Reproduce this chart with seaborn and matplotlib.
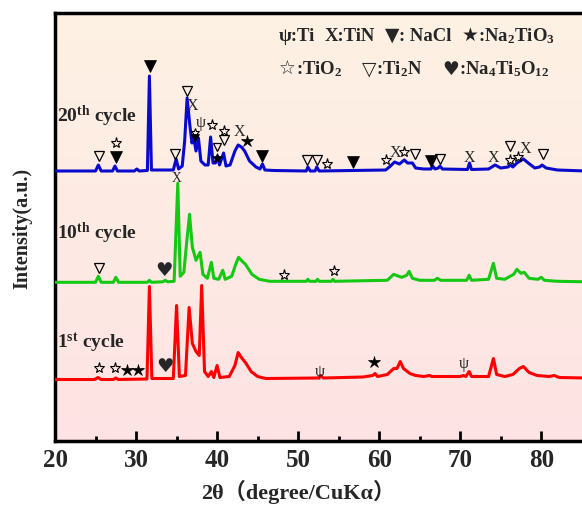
import numpy as np
import pandas as pd
import matplotlib
matplotlib.use("Agg")
import matplotlib.pyplot as plt
import seaborn as sns
from matplotlib.offsetbox import TextArea, HPacker, VPacker, AnnotationBbox

# ---- XRD patterns (2-theta in degrees, intensity in a.u. above each trace's baseline) ----
red_2theta = [20.0, 24.9, 25.3, 25.7, 27.2, 27.5, 27.8, 31.35, 31.65, 31.95, 34.6, 35.0, 35.35,
              36.1, 36.55, 36.95, 37.4, 37.8, 38.1, 38.45, 38.9, 39.3, 39.6, 40.0, 40.35, 41.5,
              42.2, 42.6, 43.0, 43.5, 44.2, 45.0, 46.0, 52.5, 52.8, 53.1, 58.0, 59.2, 59.5, 59.8,
              61.0, 61.8, 62.2, 62.6, 63.0, 63.8, 64.5, 65.5, 66.2, 66.5, 70.0, 70.4, 70.7, 71.1,
              71.4, 73.5, 74.1, 74.5, 75.5, 76.5, 77.3, 77.8, 78.5, 79.5, 81.0, 81.6, 82.2, 85.5]
red_int = [0, 0, 2, 0, 0, 1.5, 0, 0.5, 93, 1, 1, 74, 3,
           4, 72, 36, 28, 24, 94, 8, 3, 8, 2, 14, 2, 3,
           14, 27, 22, 17, 8, 3, 1, 1.5, 4, 1.5, 2.5, 4, 6, 3,
           5, 11, 11, 18, 11, 6, 4, 3, 4, 3, 3, 4, 3, 8,
           3, 3, 21, 5, 3, 5, 11, 13, 7, 4, 3, 4, 2, 1.5]

green_2theta = [20.0, 25.0, 25.35, 25.7, 27.2, 27.5, 27.85, 31.4, 31.65, 31.9, 33.3, 33.6, 33.9,
                34.7, 35.15, 35.45, 35.9, 36.25, 36.6, 36.95, 37.4, 37.9, 38.25, 38.8, 39.3, 39.6,
                40.2, 40.7, 41.0, 41.8, 42.3, 42.65, 43.1, 43.5, 44.3, 45.2, 46.5, 51.0, 51.2, 51.4,
                52.2, 52.4, 52.6, 54.1, 54.3, 54.5, 61.0, 61.8, 62.4, 62.8, 63.4, 63.7, 64.1, 65.0,
                66.8, 67.2, 67.6, 70.8, 71.1, 71.4, 73.5, 74.1, 74.5, 75.5, 76.6, 77.0, 77.5, 77.9,
                78.5, 79.6, 80.0, 80.4, 82.0, 85.5]
green_int = [0, 0, 6, 0, 0, 5, 0, 0, 2, 0, 0.5, 2, 0.5,
             1, 99, 6, 10, 40, 68, 35, 22, 30, 8, 4, 20, 4,
             3, 12, 3, 6, 18, 25, 21, 18, 8, 3, 1, 1, 3, 1,
             1, 3, 1, 1, 3, 1, 2, 8, 6, 5, 7, 11, 4, 2,
             2, 4, 2, 2, 7, 2, 3, 19, 4, 3, 8, 13, 9, 10,
             4, 3, 5, 2, 1, 0.5]

blue_2theta = [20.0, 25.0, 25.35, 25.7, 27.1, 27.4, 27.7, 29.8, 30.1, 30.4, 31.4, 31.65, 31.9,
               34.6, 34.95, 35.25, 35.7, 36.0, 36.3, 36.65, 36.9, 37.1, 37.4, 37.7, 38.0, 38.5,
               38.9, 39.2, 39.5, 39.8, 40.05, 40.3, 40.8, 41.1, 41.6, 42.2, 42.6, 43.0, 43.4,
               44.0, 44.8, 45.3, 45.6, 45.9, 47.0, 51.0, 51.2, 51.5, 52.1, 52.3, 52.6, 60.8,
               61.4, 61.9, 62.5, 63.1, 63.5, 64.1, 64.5, 65.5, 66.4, 66.6, 66.9, 67.3, 67.5,
               67.8, 70.9, 71.15, 71.4, 73.5, 74.3, 75.0, 75.9, 76.2, 76.5, 77.0, 77.8, 78.4,
               79.2, 79.8, 80.1, 80.6, 82.0, 85.5]
blue_int = [0, 0, 6, 0, 0, 5, 0, 0, 2, 0, 0.5, 95, 1,
            1, 12, 2, 5, 30, 73, 45, 28, 34, 20, 33, 10, 6,
            6, 34, 8, 8, 15, 6, 18, 5, 6, 20, 26, 24, 20,
            10, 4, 2, 7, 1, 0.5, 0, 4, 0, 0, 4, 0, 1,
            5, 9, 7, 11, 8, 8, 3, 2, 2, 5, 2, 3, 5,
            2, 1.5, 8, 1.5, 2, 6, 3, 4, 6, 4, 8, 12, 8,
            3, 4, 6, 3, 1, 0]

cycles = ["1st cycle", "10th cycle", "20th cycle"]
cycle_colors = ["#FF0000", "#14C814", "#0A0ACD"]
cycle_offsets = [61.5, 158.7, 270.0]

x_ticks = [20, 30, 40, 50, 60, 70, 80]

# ---- style ----
sns.set_theme(style="ticks")
plt.rcParams["font.family"] = ["Liberation Serif", "DejaVu Sans"]
plt.rcParams["font.weight"] = "bold"
plt.rcParams["mathtext.fontset"] = "custom"
plt.rcParams["mathtext.rm"] = "Liberation Serif:bold"
plt.rcParams["mathtext.bf"] = "Liberation Serif:bold"
plt.rcParams["mathtext.it"] = "Liberation Serif:bold:italic"

frames = []
for name, xs, ys, off in zip(cycles,
                             [red_2theta, green_2theta, blue_2theta],
                             [red_int, green_int, blue_int],
                             cycle_offsets):
    frames.append(pd.DataFrame({"two_theta": xs,
                                "intensity": np.asarray(ys, dtype=float) + off,
                                "cycle": name}))
df = pd.concat(frames, ignore_index=True)

fig = plt.figure(figsize=(5.82, 5.06), dpi=100)
ax = fig.add_axes([55 / 582, 64 / 506, 530 / 582, 428 / 506])

# soft peach-to-pink panel background
grad = np.linspace(0, 1, 256)[:, None]
top_c = np.array([254, 242, 228]) / 255
bot_c = np.array([253, 227, 227]) / 255
img = (top_c[None, None, :] * (1 - grad[..., None]) + bot_c[None, None, :] * grad[..., None])
ax.imshow(img, extent=[0, 1, 0, 1], transform=ax.transAxes, aspect="auto", zorder=0)

sns.lineplot(data=df, x="two_theta", y="intensity", hue="cycle", hue_order=cycles,
             palette=cycle_colors, estimator=None, sort=False, legend=False,
             linewidth=2.2, ax=ax, zorder=3)

ax.set_xlim(20, 85.4)
ax.set_ylim(0, 428)

# ---- phase markers ----
def tri_open(x, y, s=1.0):
    ax.plot(x, y, marker="v", ms=7.5 * s, mfc="none", mec="black", mew=0.9, ls="none", zorder=5)

def tri_fill(x, y, s=1.0):
    ax.plot(x, y, marker="v", ms=8.0 * s, mfc="black", mec="black", mew=0.5, ls="none", zorder=5)

def star_open(x, y, s=1.0):
    ax.plot(x, y, marker="*", ms=8.0 * s, mfc="none", mec="black", mew=0.8, ls="none", zorder=5)

def star_fill(x, y, s=1.0):
    ax.plot(x, y, marker="*", ms=9.0 * s, mfc="black", mec="black", mew=0.5, ls="none", zorder=5)

def txt(sym, x, y, size, fam):
    ax.text(x, y, sym, fontsize=size, fontweight="normal", family=fam,
            ha="center", va="center", zorder=5)

def tin(x, y, s=1.0):
    txt("X", x, y, 11.5 * s, ["Liberation Serif"])

def ti(x, y, s=1.0):
    txt("ψ", x, y, 11.5 * s, ["Liberation Serif", "DejaVu Sans"])

def heart(x, y, s=1.0):
    txt("♥", x, y, 14 * s, ["DejaVu Sans"])

# 20th cycle
tri_open(25.4, 285); star_open(27.5, 298); tri_fill(27.5, 284)
tri_fill(31.7, 375, 1.05); tri_open(34.8, 287); tin(34.95, 264, 0.85)
tri_open(36.25, 350); tin(37.0, 336); ti(38.0, 319)
star_open(37.3, 309, 0.8); tri_fill(37.3, 303, 0.65)
star_open(39.4, 316); star_open(40.9, 310); tri_open(40.9, 301)
tri_open(40.0, 294, 0.75); star_fill(40.0, 283, 0.8)
tin(42.75, 310); star_fill(43.65, 300); tri_fill(45.5, 285)
tri_open(51.1, 281); tri_open(52.3, 281); star_open(53.6, 277); tri_fill(56.75, 279)
star_open(60.9, 281); tin(62.0, 289); star_open(63.1, 289); tri_open(64.4, 287)
tri_fill(66.4, 280); tri_open(67.5, 282); tin(71.15, 284); tin(74.1, 284)
tri_open(76.1, 295); star_open(76.1, 281); star_open(77.1, 284); tin(78.0, 293)
tri_open(80.2, 287)
# 10th cycle
tri_open(25.4, 173); heart(33.5, 171); star_open(48.2, 166); star_open(54.4, 170)
# 1st cycle
star_open(25.4, 73); star_open(27.4, 73); star_fill(28.85, 71); star_fill(30.3, 71)
heart(33.6, 75); ti(52.7, 70); star_fill(59.4, 79); ti(70.5, 78)

# cycle labels
for label, y in zip(["1$^{\\mathbf{st}}$ cycle", "10$^{\\mathbf{th}}$ cycle", "20$^{\\mathbf{th}}$ cycle"],
                    [99, 209, 326]):
    ax.text(20.25, y, label, fontsize=14, va="center", ha="left", zorder=6)

# ---- phase key ----
lab = dict(fontsize=13.5, fontweight="bold", family=["Liberation Serif", "DejaVu Sans"])
sym = dict(fontsize=13.5, fontweight="bold", family=["DejaVu Sans"])

def pair(s, t):
    return HPacker(children=[TextArea(s, textprops=sym), TextArea(t, textprops=lab)],
                   sep=0, pad=0, align="baseline")

row1 = HPacker(children=[TextArea("ψ:Ti", textprops=lab), TextArea("X:TiN", textprops=lab),
                         pair("▼", ": NaCl"), pair("★", ":Na$_2$TiO$_3$")],
               sep=7, pad=0, align="baseline")
row2 = HPacker(children=[pair("☆", ":TiO$_2$"), pair("▽", ":Ti$_2$N"),
                         pair("♥", ":Na$_4$Ti$_5$O$_{12}$")],
               sep=14, pad=0, align="baseline")
key = VPacker(children=[row1, row2], sep=10, pad=0, align="left")
ab = AnnotationBbox(key, (279, 506 - 26), xycoords="figure pixels", box_alignment=(0, 1),
                    frameon=False, pad=0, zorder=7)
ax.add_artist(ab)

# ---- axes styling ----
ax.set_xticks(x_ticks)
ax.set_xticklabels([str(t) for t in x_ticks])
ax.set_xticks(np.arange(25, 85, 10), minor=True)
ax.set_yticks([])
ax.tick_params(axis="x", which="major", direction="in", length=7, width=2,
               labelsize=18, pad=5, color="black")
ax.tick_params(axis="x", which="minor", direction="in", length=3.5, width=2, color="black")
for lbl in ax.get_xticklabels():
    lbl.set_fontweight("bold")
for side in ["left", "right", "top", "bottom"]:
    ax.spines[side].set_linewidth(2.5)
    ax.spines[side].set_color("black")

ax.set_xlabel("2θ（degree/CuKα）", fontsize=16, fontweight="bold",
              family=["Liberation Serif", "Noto Sans CJK SC"])
ax.xaxis.label.set_verticalalignment("center")
ax.xaxis.set_label_coords((298 - 55) / 530, -(492 - 442) / 428)
ax.set_ylabel("Intensity(a.u.)", fontsize=14.5, fontweight="bold", labelpad=16)

fig.savefig("out.png", dpi=100)
